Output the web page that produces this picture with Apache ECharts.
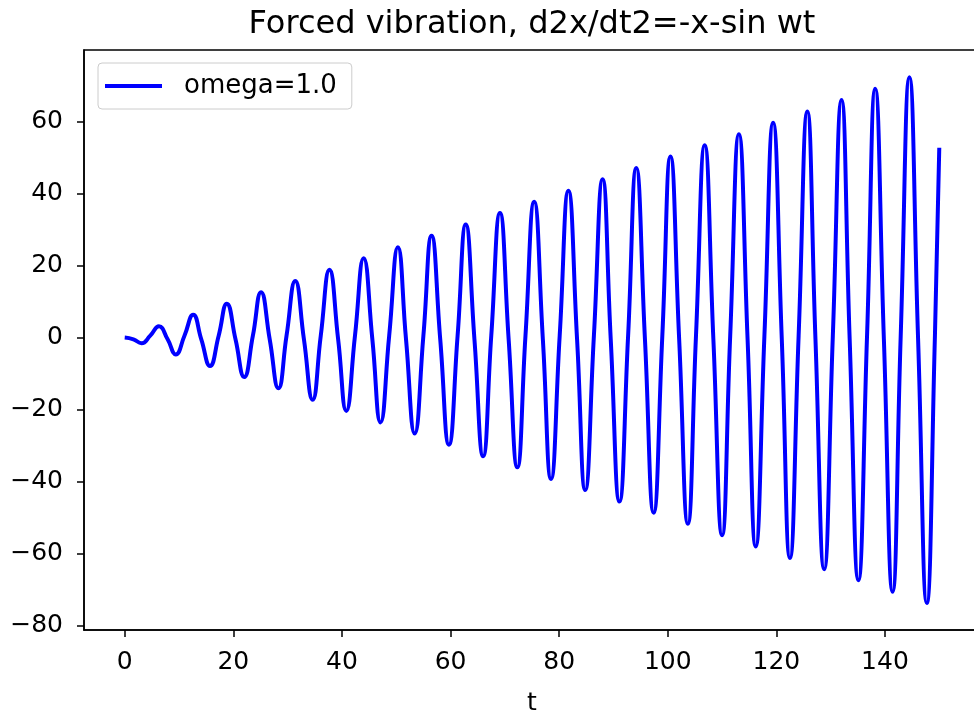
<!DOCTYPE html>
<html style="height: 100%">
<head>
  <meta charset="utf-8">
</head>
<body style="height: 100%; margin: 0; background: #fff">
  <div id="container" style="width: 974px; height: 716px"></div>

  <script type="text/javascript" src="https://cdn.jsdelivr.net/npm/echarts@6/dist/echarts.min.js"></script>
  <script type="text/javascript">
    // values, about 4 per period (peak, zero, trough, zero)
    var tValues = [
      0, 1.6, 3.1, 4.7, 6.3, 7.9, 9.4, 11.0, 12.6, 14.1, 15.7, 17.3, 18.8, 20.4, 22.0, 23.6,
      25.1, 26.7, 28.3, 29.8, 31.4, 33.0, 34.6, 36.1, 37.7, 39.3, 40.8, 42.4, 44.0, 45.6, 47.1, 48.7,
      50.3, 51.8, 53.4, 55.0, 56.5, 58.1, 59.7, 61.3, 62.8, 64.4, 66.0, 67.5, 69.1, 70.7, 72.3, 73.8,
      75.4, 77.0, 78.5, 80.1, 81.7, 83.3, 84.8, 86.4, 88.0, 89.5, 91.1, 92.7, 94.2, 95.8, 97.4, 99.0,
      100.5, 102.1, 103.7, 105.2, 106.8, 108.4, 110.0, 111.5, 113.1, 114.7, 116.2, 117.8, 119.4, 121.0, 122.5, 124.1,
      125.7, 127.2, 128.8, 130.4, 132.0, 133.5, 135.1, 136.7, 138.2, 139.8, 141.4, 142.9, 144.5, 146.1, 147.7, 149.2,
      150
    ];
    var xValues = [
      0, -0.5, -1.6, 0.5, 3.1, -0.5, -4.7, 0.5, 6.3, -0.5, -7.9, 0.5, 9.4, -0.5, -11.0, 0.5,
      12.6, -0.5, -14.1, 0.5, 15.7, -0.5, -17.3, 0.5, 18.8, -0.5, -20.4, 0.5, 22.0, -0.5, -23.6, 0.5,
      25.1, -0.5, -26.7, 0.5, 28.3, -0.5, -29.8, 0.5, 31.4, -0.5, -33.0, 0.5, 34.6, -0.5, -36.1, 0.5,
      37.7, -0.5, -39.3, 0.5, 40.8, -0.5, -42.4, 0.5, 44.0, -0.5, -45.6, 0.5, 47.1, -0.5, -48.7, 0.5,
      50.3, -0.5, -51.8, 0.5, 53.4, -0.5, -55.0, 0.5, 56.5, -0.5, -58.1, 0.5, 59.7, -0.5, -61.3, 0.5,
      62.8, -0.5, -64.4, 0.5, 66.0, -0.5, -67.5, 0.5, 69.1, -0.5, -70.7, 0.5, 72.3, -0.5, -73.8, 0.5,
      52.7
    ];
    var seriesName = 'omega=1.0';
    var chartTitle = 'Forced vibration, d2x/dt2=-x-sin wt';

    var dom = document.getElementById('container');
    var myChart = echarts.init(dom, null, { renderer: 'canvas' });

    var points = [];
    for (var i = 0; i < tValues.length; i++) {
      points.push([tValues[i], xValues[i]]);
    }

    var axisColor = '#000';
    var font = 'DejaVu Sans';

    // matplotlib style minus sign
    function tickFmt(v) {
      return String(v).replace('-', '\u2212');
    }

    var option = {
      animation: false,
      backgroundColor: '#fff',
      textStyle: { fontFamily: font },
      title: {
        text: chartTitle,
        left: 532,
        top: 9,
        textAlign: 'center',
        padding: 0,
        textStyle: { fontSize: 32, fontWeight: 'normal', color: '#000', fontFamily: font }
      },
      legend: {
        left: 98,
        top: 63,
        padding: [10, 15, 10, 7],
        icon: 'rect',
        itemWidth: 57,
        itemHeight: 4,
        borderColor: '#cccccc',
        borderWidth: 1,
        borderRadius: 4,
        textStyle: { fontSize: 26, color: '#000', fontFamily: font, padding: [0, 0, 0, 17] },
        data: [seriesName]
      },
      grid: {
        left: 84,
        top: 50,
        width: 896,
        height: 580,
        show: true,
        borderColor: axisColor,
        borderWidth: 1.5,
        containLabel: false,
        outerBoundsMode: 'none'
      },
      xAxis: {
        type: 'value',
        min: -7.5,
        max: 157.5,
        splitNumber: 8,
        name: 't',
        nameLocation: 'middle',
        nameGap: 61,
        nameTextStyle: { fontSize: 25, color: '#000', fontFamily: font },
        axisLine: { show: true, onZero: false, lineStyle: { color: axisColor, width: 1.5 } },
        axisTick: { show: true, inside: false, length: 7, lineStyle: { color: axisColor, width: 1.5 } },
        axisLabel: { fontSize: 25, color: '#000', margin: 20, showMinLabel: false, showMaxLabel: false, formatter: tickFmt },
        splitLine: { show: false }
      },
      yAxis: {
        type: 'value',
        min: -81.3,
        max: 79.9,
        splitNumber: 8,
        axisLine: { show: true, onZero: false, lineStyle: { color: axisColor, width: 1.5 } },
        axisTick: { show: true, inside: false, length: 7, lineStyle: { color: axisColor, width: 1.5 } },
        axisLabel: { fontSize: 25, color: '#000', margin: 21, showMinLabel: false, showMaxLabel: false, formatter: tickFmt },
        splitLine: { show: false }
      },
      series: [
        {
          name: seriesName,
          type: 'line',
          data: points,
          smooth: true,
          symbol: 'none',
          showSymbol: false,
          itemStyle: { color: '#0000ff' },
          lineStyle: { color: '#0000ff', width: 4 }
        }
      ]
    };

    if (option && typeof option === 'object') {
      myChart.setOption(option);
    }

    window.addEventListener('resize', myChart.resize);
  </script>
</body>
</html>
